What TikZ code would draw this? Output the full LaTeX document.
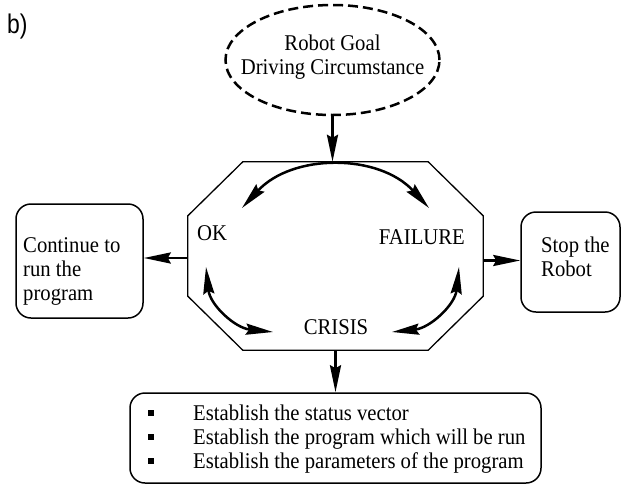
\documentclass[tikz,border=0pt]{standalone}
\usepackage{fontspec}
\setmainfont[FakeStretch=0.92]{Liberation Serif}
\newfontfamily\tagfont[FakeStretch=0.85]{Liberation Sans}
\usetikzlibrary{arrows.meta,calc,shapes.geometric}
\newcommand\sqbul{\raisebox{4.5pt}{\rule{6pt}{6pt}}}
\begin{document}
\begin{tikzpicture}[x=1pt,y=-1pt,
  >={Stealth[length=27pt,width=11pt,inset=3pt]},
  every node/.style={inner sep=0pt, font=\fontsize{22.5}{24}\selectfont},
  txt/.style={anchor=base west},
  box/.style={draw, line width=1.5pt, rounded corners=15pt},
  flow/.style={->, line width=2.8pt},
  swap/.style={<->, line width=2.5pt},
]
\useasboundingbox (0,0) rectangle (621,485);

% panel tag
\node[anchor=base west, font=\tagfont\fontsize{27}{27}\selectfont] (tag) at (7,33) {b)};

% goal (dashed ellipse)
\node[ellipse, draw, line width=2.5pt, dash pattern=on 10pt off 5pt,
      minimum width=214pt, minimum height=110pt] (goal) at (332.5,60) {};
\node[anchor=base] (goal1) at (332.5,50) {Robot Goal};
\node[anchor=base] (goal2) at (332.5,74) {Driving Circumstance};

% state octagon
\node[minimum width=295pt, minimum height=188pt] (oct) at (335.5,256) {};
\draw[line width=1.3pt]
  ($(oct.north west)+(55,0)$) -- ($(oct.north east)+(-55,0)$)
  -- ($(oct.north east)+(0,54)$) -- ($(oct.south east)+(0,-54)$)
  -- ($(oct.south east)+(-55,0)$) -- ($(oct.south west)+(55,0)$)
  -- ($(oct.south west)+(0,-54)$) -- ($(oct.north west)+(0,54)$) -- cycle;

\node[txt] (ok) at (197,240) {OK};
\node[anchor=base east] (fail) at (465,244) {FAILURE};
\node[anchor=base] (crisis) at (336,334) {CRISIS};

% transitions between the states
\coordinate (topL) at (242,208);
\coordinate (topR) at (429,208);
\draw[swap] (topL) .. controls (292.3,153.3) and (378.7,153.3) .. (topR);
\coordinate (okLow) at (206,267);
\coordinate (crL) at (273,332);
\draw[swap] (okLow) .. controls (210,305) and (235,328) .. (crL);
\coordinate (failLow) at (459,267);
\coordinate (crR) at (392,332);
\draw[swap] (failLow) .. controls (455,305) and (430,328) .. (crR);

% outcome boxes
\node[box, minimum width=127pt, minimum height=114pt] (cont) at (79.5,261) {};
\node[txt] (cont1) at (23,252) {Continue to};
\node[txt] (cont2) at (23,276) {run the};
\node[txt] (cont3) at (23,300) {program};

\node[box, minimum width=99pt, minimum height=100pt] (stop) at (570.5,262) {};
\node[txt] (stop1) at (541,252) {Stop the};
\node[txt] (stop2) at (541,276) {Robot};

\node[box, minimum width=411pt, minimum height=90pt] (todo) at (335.5,438) {};
\node[txt] (todo1) at (147.7,420) {\makebox[45.3pt][l]{\sqbul}Establish the status vector};
\node[txt] (todo2) at (147.7,444) {\makebox[45.3pt][l]{\sqbul}Establish the program which will be run};
\node[txt] (todo3) at (147.7,468) {\makebox[45.3pt][l]{\sqbul}Establish the parameters of the program};

% connectors
\draw[flow] (goal.south) -- (goal.south |- oct.north);
\coordinate (lo) at ([yshift=-2pt]oct.west);
\draw[flow] (lo) -- (lo -| cont.east);
\coordinate (ro) at ([yshift=-4.5pt]oct.east);
\draw[flow] (ro) -- (ro -| stop.west);
\draw[flow] (oct.south) -- (todo.north);
\end{tikzpicture}
\end{document}
